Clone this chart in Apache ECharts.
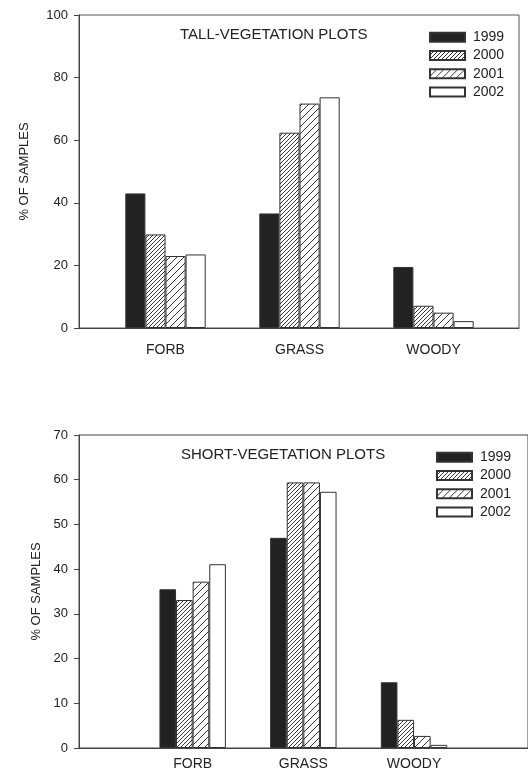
<!DOCTYPE html>
<html>
<head>
<meta charset="utf-8">
<script src="https://cdn.jsdelivr.net/npm/echarts@6/dist/echarts.min.js"></script>
<style>
  html, body { margin: 0; padding: 0; background: #fff; }
  #main { width: 528px; height: 774px; }
</style>
</head>
<body>
<div id="main"></div>
<script type="text/javascript">
// data
var categories = ['FORB', 'GRASS', 'WOODY'];
var years = ['1999', '2000', '2001', '2002'];
var tall1999 = [43.0, 36.6, 19.5];
var tall2000 = [29.9, 62.4, 7.1];
var tall2001 = [23.0, 71.7, 4.9];
var tall2002 = [23.5, 73.7, 2.2];
var short1999 = [35.5, 47.0, 14.7];
var short2000 = [33.1, 59.4, 6.3];
var short2001 = [37.2, 59.4, 2.7];
var short2002 = [41.1, 57.3, 0.7];
var tallMax = 100, tallStep = 20;
var shortMax = 70, shortStep = 10;

var FONT = '"Liberation Sans", Arial, sans-serif';
var INK = '#222';

// diagonal hatch tile
function hatch(size) {
  var c = document.createElement('canvas');
  c.width = size; c.height = size;
  var g = c.getContext('2d');
  g.fillStyle = '#fff';
  g.fillRect(0, 0, size, size);
  g.strokeStyle = '#333';
  g.lineWidth = 1;
  g.beginPath();
  g.moveTo(-1, size + 1); g.lineTo(size + 1, -1);
  g.moveTo(-1, 1); g.lineTo(1, -1);
  g.moveTo(size - 1, size + 1); g.lineTo(size + 1, size - 1);
  g.stroke();
  return {image: c, repeat: 'repeat'};
}
var fills = ['#222', hatch(4), hatch(7), '#fff'];

function frameAxes(grid, max, step, gap) {
  return {
    x: {type: 'value', gridIndex: grid, min: 0, max: 1, axisLine: {show: true, lineStyle: {color: '#444', width: 1}},
        axisTick: {show: false}, axisLabel: {show: false}, splitLine: {show: false}},
    y: {type: 'value', gridIndex: grid, min: 0, max: max, interval: step,
        name: '% OF SAMPLES', nameLocation: 'middle', nameGap: gap, nameRotate: 90,
        nameTextStyle: {fontFamily: FONT, fontSize: 13, color: INK},
        axisLine: {show: true, lineStyle: {color: '#444', width: 1}},
        axisTick: {show: true, length: 5, lineStyle: {color: '#444'}},
        axisLabel: {margin: 11, fontFamily: FONT, fontSize: 13, color: INK},
        splitLine: {show: false}}
  };
}
function barAxes(grid, max, margin) {
  return {
    x: {type: 'category', gridIndex: grid, data: categories, axisLine: {show: false}, axisTick: {show: false},
        axisLabel: {margin: margin, fontFamily: FONT, fontSize: 14, color: INK}},
    y: {type: 'value', gridIndex: grid, min: 0, max: max, show: false}
  };
}
var f0 = frameAxes(0, tallMax, tallStep, 48), b1 = barAxes(1, tallMax, 15);
var f2 = frameAxes(2, shortMax, shortStep, 36), b3 = barAxes(3, shortMax, 9);

function bars(name, data, idx, axis) {
  return {
    type: 'bar', name: name, data: data, xAxisIndex: axis, yAxisIndex: axis,
    barGap: 0, barCategoryGap: '40%',
    itemStyle: {color: fills[idx], borderColor: '#333', borderWidth: 1},
    emphasis: {disabled: true}, animation: false
  };
}

var chart = echarts.init(document.getElementById('main'), null, {renderer: 'canvas'});
var legendBase = {orient: 'vertical', icon: 'rect', itemWidth: 35, itemHeight: 9, itemGap: 4.2, padding: 0,
  textStyle: {fontFamily: FONT, fontSize: 14, color: INK, padding: [0, 0, 0, 3]}, selectedMode: false, data: years};
var titleStyle = {fontFamily: FONT, fontSize: 15, fontWeight: 'normal', color: INK};
chart.setOption({
  backgroundColor: '#fff',
  animation: false,
  title: [
    {text: 'TALL-VEGETATION PLOTS', left: 180, top: 27, padding: 0, textStyle: titleStyle},
    {text: 'SHORT-VEGETATION PLOTS', left: 181, top: 447, padding: 0, textStyle: titleStyle}
  ],
  legend: [
    Object.assign({}, legendBase, {left: 429, top: 30.3}),
    Object.assign({}, legendBase, {left: 436, top: 450.3})
  ],
  grid: [
    {left: 79, right: 9, top: 15, height: 313, show: true, borderColor: '#555', borderWidth: 1, backgroundColor: 'transparent'},
    {left: 98.5, right: 27.5, top: 15, height: 313},
    {left: 79, right: -2, top: 435, height: 313, show: true, borderColor: '#444', borderWidth: 1, backgroundColor: 'transparent'},
    {left: 137.3, right: 58.6, top: 435, height: 313}
  ],
  xAxis: [f0.x, b1.x, f2.x, b3.x],
  yAxis: [f0.y, b1.y, f2.y, b3.y],
  series: [
    bars(years[0], tall1999, 0, 1), bars(years[1], tall2000, 1, 1),
    bars(years[2], tall2001, 2, 1), bars(years[3], tall2002, 3, 1),
    bars(years[0], short1999, 0, 3), bars(years[1], short2000, 1, 3),
    bars(years[2], short2001, 2, 3), bars(years[3], short2002, 3, 3)
  ]
});
window.addEventListener('resize', function () { chart.resize(); });
</script>
</body>
</html>
